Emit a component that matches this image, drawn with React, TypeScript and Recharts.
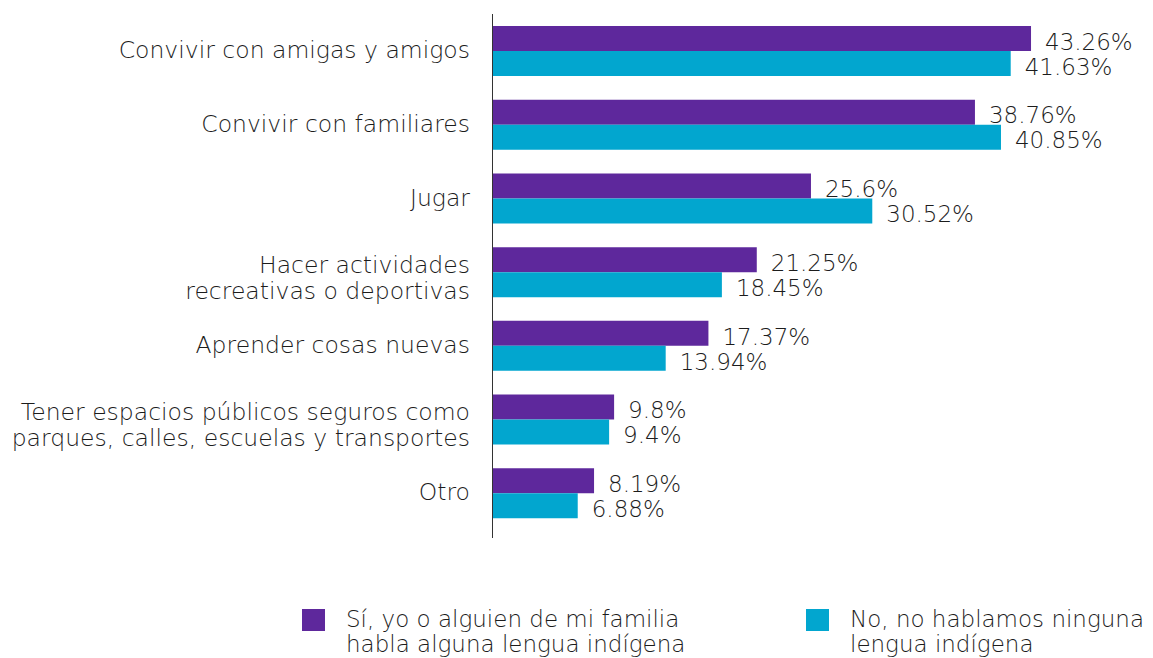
import { BarChart, Bar, XAxis, YAxis, LabelList } from 'recharts'

const categories = [
  'Convivir con amigas y amigos',
  'Convivir con familiares',
  'Jugar',
  'Hacer actividades\nrecreativas o deportivas',
  'Aprender cosas nuevas',
  'Tener espacios públicos seguros como\nparques, calles, escuelas y transportes',
  'Otro',
]
const indigenous = [43.26, 38.76, 25.6, 21.25, 17.37, 9.8, 8.19]
const nonIndigenous = [41.63, 40.85, 30.52, 18.45, 13.94, 9.4, 6.88]

const seriesNames = [
  'Sí, yo o alguien de mi familia\nhabla alguna lengua indígena',
  'No, no hablamos ninguna\nlengua indígena',
]

const PURPLE = '#5e289c'
const CYAN = '#02a6cf'
const TEXT = '#1c1c1c'
const FONT = '"DejaVu Sans", sans-serif'
const WEIGHT = 200

const data = categories.map((c, i) => ({ cat: c, si: indigenous[i], no: nonIndigenous[i] }))

function CatTick(props: any) {
  const { x, y, payload } = props
  const lines: string[] = String(payload.value).split('\n')
  const start = lines.length > 1 ? -7.5 : -1
  return (
    <text x={x} y={y} textAnchor="end" fill={TEXT} fontSize={23.5} fontFamily={FONT} fontWeight={WEIGHT}>
      {lines.map((l, i) => (
        <tspan key={i} x={x} y={y + start + i * 26} dy="0.35em">{l}</tspan>
      ))}
    </text>
  )
}

const fmt = (v: any) => `${v}%`
const labelStyle = { fill: TEXT, fontSize: 23, fontFamily: FONT, fontWeight: WEIGHT, transform: 'translateY(3px)' }

export default function App() {
  return (
    <div style={{ position: 'absolute', left: 0, top: 0, width: 1153, height: 658, background: '#fff', overflow: 'hidden' }}>
      <BarChart
        width={1153}
        height={658}
        data={data}
        layout="vertical"
        margin={{ top: 14, right: 38, bottom: 128, left: 0 }}
        barGap={0}
        barCategoryGap={12}
      >
        <XAxis type="number" domain={[0, 50]} hide />
        <YAxis
          type="category"
          dataKey="cat"
          width={492}
          tickLine={false}
          axisLine={false}
          tick={<CatTick />}
          tickMargin={16}
          interval={0}
        />
        <Bar dataKey="si" fill={PURPLE} barSize={25} isAnimationActive={false}>
          <LabelList dataKey="si" position="right" offset={14} formatter={fmt} style={labelStyle} />
        </Bar>
        <Bar dataKey="no" fill={CYAN} barSize={25} isAnimationActive={false}>
          <LabelList dataKey="no" position="right" offset={14} formatter={fmt} style={labelStyle} />
        </Bar>
      </BarChart>
      {/* axis line runs a little past the last category in the original */}
      <div style={{ position: 'absolute', left: 492, top: 14, width: 1, height: 524, background: '#333' }} />
      {seriesNames.map((name, i) => (
        <div key={i} style={{ position: 'absolute', top: 609, left: i === 0 ? 302 : 806, display: 'flex', fontFamily: FONT, fontWeight: WEIGHT, fontSize: 23, color: TEXT }}>
          <div style={{ width: 23, height: 22, background: i === 0 ? PURPLE : CYAN, marginRight: 21, flexShrink: 0 }} />
          <div style={{ lineHeight: '25px', marginTop: -2, whiteSpace: 'pre' }}>{name}</div>
        </div>
      ))}
    </div>
  )
}
